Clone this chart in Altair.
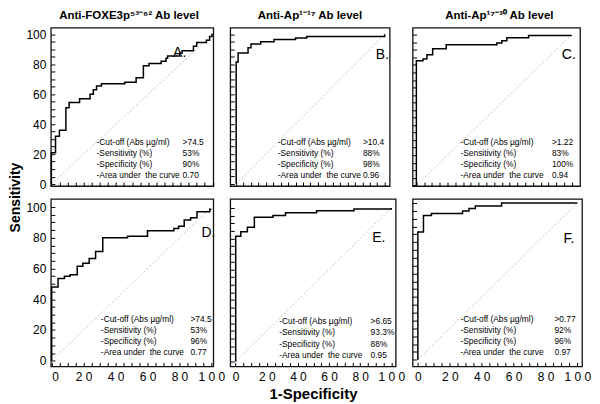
import altair as alt
import pandas as pd

# ---------------- data ----------------
A_FPR = [0, 0, 2.6, 5, 9, 11, 17.5, 24, 26, 28, 31, 45.5, 52.5, 57, 60.5, 68, 71, 72, 79.5, 81, 88, 90, 96, 98, 99.5, 100]
A_TPR = [0, 21, 32, 36, 51, 54.5, 57, 60, 63, 65.5, 67, 68, 71, 79, 80.5, 82, 84, 85.5, 87.5, 89, 92, 94.5, 96, 98.5, 100, 100]
B_FPR = [0, 0, 1.3, 8, 10, 16.5, 25.5, 40, 47.5, 100]
B_TPR = [0, 81.5, 87.5, 91, 93.5, 95, 96.5, 97.5, 98.5, 100]
C_FPR = [0, 0, 4.3, 6.8, 10.5, 19.2, 51.8, 55, 58.2, 72.2, 100]
C_TPR = [0, 82.8, 84, 86.8, 90.7, 93.4, 94.6, 96, 98, 99.6, 99.6]
D_FPR = [0, 0, 4, 8, 11.5, 16, 19.5, 23.5, 27.5, 32, 47.5, 60, 76.5, 79.5, 83, 87, 91, 99, 100]
D_TPR = [0, 48, 53.5, 55, 56, 61.5, 63.5, 66.5, 71, 80, 81, 84.5, 86, 87.5, 91.5, 93, 97, 98.5, 98.5]
E_FPR = [0, 0, 3.3, 7.5, 12, 24, 32, 52, 76, 100]
E_TPR = [0, 81.5, 84.5, 87.5, 94, 95, 96.8, 98.2, 99.3, 100]
F_FPR = [0, 0, 3.5, 8.5, 28, 32, 36, 52.5, 100]
F_TPR = [0, 81.5, 92, 93.3, 94.8, 96.5, 98, 100, 100]

STAT_LABELS = ["-Cut-off (Abs \u00b5g/ml)", "-Sensitivity (%)", "-Specificity (%)",
               "-Area under\u00a0 the curve"]
A_STATS = [">74.5", "53%", "90%", "0.70"]
B_STATS = [">10.4", "88%", "98%", "0.96"]
C_STATS = [">1.22", "83%", "100%", "0.94"]
D_STATS = [">74.5", "53%", "96%", "0.77"]
E_STATS = [">6.65", "93.3%", "88%", "0.95"]
F_STATS = [">0.77", "92%", "96%", "0.97"]

PANEL_LETTERS = ["A.", "B.", "C.", "D.", "E.", "F."]
TITLES = ["Anti-FOXE3p\u2075\u00b3\u207b\u2076\u00b2 Ab level",
          "Anti-Ap\u00b9\u207b\u00b9\u2077 Ab level",
          "Anti-Ap\u00b9\u2077\u207b\u00b3\u2070 Ab level"]
TICKS = list(range(0, 101, 5))
DIAG = [0, 100]

# ---------------- layout / style ----------------
FONT = "Liberation Sans"
LAYOUT = {
    "A": dict(w=163, h=159, xd=[-0.3, 100.3], yd=[-1.3, 104.4], tx=28, vx=81.3, ty=28.0, st=7.4, lx=75.4, ly=87.5),
    "B": dict(w=160, h=159, xd=[-4.0, 103.4], yd=[-1.5, 104.5], tx=28, vx=85.4, ty=27.8, st=7.3, lx=94, ly=86.5),
    "C": dict(w=168, h=159, xd=[-2.4, 105.3], yd=[-0.5, 104.8], tx=28.4, vx=87.2, ty=28.6, st=7.3, lx=93.6, ly=86.5),
    "D": dict(w=163, h=168, xd=[-0.5, 101.2], yd=[-3.7, 105.2], tx=30.8, vx=86.9, ty=27.0, st=7.2, lx=93.8, ly=83.2),
    "E": dict(w=166, h=168, xd=[-3.5, 102.8], yd=[-3.2, 105.8], tx=28, vx=86.7, ty=26.4, st=7.4, lx=87.8, ly=80.5),
    "F": dict(w=170, h=168, xd=[-3.3, 102.9], yd=[-4.3, 102.5], tx=26.7, vx=85.6, ty=25.8, st=7.0, lx=91.3, ly=76.8),
}
CURVES = {"A": (A_FPR, A_TPR), "B": (B_FPR, B_TPR), "C": (C_FPR, C_TPR),
          "D": (D_FPR, D_TPR), "E": (E_FPR, E_TPR), "F": (F_FPR, F_TPR)}
STATS = {"A": A_STATS, "B": B_STATS, "C": C_STATS, "D": D_STATS, "E": E_STATS, "F": F_STATS}

X_LABEL_EXPR = ("datum.value % 20 != 0 ? '' : (datum.value == 0 ? '0' : "
                "(datum.value == 100 ? '1 0 0' : floor(datum.value / 10) + ' 0'))")
Y_LABEL_EXPR = "datum.value % 20 != 0 ? '' : '' + datum.value"


def make_axis(labels, kind, title=None, extra=None):
    kw = dict(values=TICKS, offset=-4, tickSize=4, domain=False, grid=False,
              tickColor="black", tickWidth=1, labelOverlap=False,
              labelColor="black", labelFont=FONT, labelFontSize=12)
    if labels:
        kw["labelExpr"] = X_LABEL_EXPR if kind == "x" else Y_LABEL_EXPR
        kw["labelPadding"] = 5
    else:
        kw["labels"] = False
    kw["title"] = title
    if extra:
        kw.update(extra)
    return alt.Axis(**kw)


def panel(key, idx, xlabels, ylabels, title=None, title_dx=0, ytitle=None, xtitle=None):
    L = LAYOUT[key]
    fpr, tpr = CURVES[key]
    yextra = None
    if ytitle:
        yextra = dict(titleAngle=270, titleX=-46, titleY=170, titleBaseline="top",
                      titleAlign="center", titleFont=FONT, titleFontSize=14,
                      titleFontWeight="bold", titleColor="black")
    xextra = None
    if xtitle:
        xextra = dict(titleFont=FONT, titleFontSize=15, titleFontWeight="bold",
                      titleColor="black", titlePadding=4)
    xs = alt.Scale(domain=L["xd"], nice=False, zero=False)
    ys = alt.Scale(domain=L["yd"], nice=False, zero=False)
    xenc = alt.X("fpr:Q", scale=xs, axis=make_axis(xlabels, "x", xtitle, xextra))
    yenc = alt.Y("tpr:Q", scale=ys, axis=make_axis(ylabels, "y", ytitle, yextra))

    diag = alt.Chart(pd.DataFrame({"fpr": DIAG, "tpr": DIAG})).mark_line(
        color="#b8b8b8", strokeDash=[2, 2], strokeWidth=0.8).encode(x=xenc, y=yenc)
    curve = alt.Chart(pd.DataFrame({"fpr": fpr, "tpr": tpr})).mark_line(
        interpolate="step-after", color="black", strokeWidth=1.5).encode(x=xenc, y=yenc)

    ypos = [L["ty"] - i * L["st"] for i in range(4)]
    df_lab = pd.DataFrame({"txt": STAT_LABELS, "tpr": ypos, "fpr": [L["tx"]] * 4})
    df_val = pd.DataFrame({"txt": STATS[key], "tpr": ypos, "fpr": [L["vx"]] * 4})
    t1 = alt.Chart(df_lab).mark_text(align="left", baseline="middle", font=FONT,
                                     fontSize=8.4, color="black").encode(
        x=xenc, y=yenc, text="txt:N")
    t2 = alt.Chart(df_val).mark_text(align="left", baseline="middle", font=FONT,
                                     fontSize=8.4, color="black").encode(
        x=xenc, y=yenc, text="txt:N")
    ldf = pd.DataFrame({"txt": [PANEL_LETTERS[idx]], "fpr": [L["lx"]], "tpr": [L["ly"]]})
    let = alt.Chart(ldf).mark_text(align="left", baseline="middle", font=FONT,
                                   fontSize=14, color="black").encode(
        x=xenc, y=yenc, text="txt:N")

    props = dict(width=L["w"], height=L["h"])
    if title:
        props["title"] = alt.TitleParams(text=title, anchor="middle", frame="group",
                                         dx=title_dx, offset=6, font=FONT,
                                         fontSize=11.5, fontWeight="bold", color="black")
    return alt.layer(diag, curve, t1, t2, let).properties(**props)


pA = panel("A", 0, False, True, TITLES[0], -3, ytitle="Sensitivity")
pB = panel("B", 1, False, False, TITLES[1], 0)
pC = panel("C", 2, False, False, TITLES[2], 3)
pD = panel("D", 3, True, True)
pE = panel("E", 4, True, False, xtitle="1-Specificity")
pF = panel("F", 5, True, False)

chart = alt.concat(pA, pB, pC, pD, pE, pF, columns=3, bounds="flush", align="each",
                   spacing={"column": 17, "row": 13}).properties(
    padding={"left": 0, "top": 0, "right": 0, "bottom": 0}, background="white"
).configure_view(stroke="#111", strokeWidth=1.3)

chart.save("out.html", embed_options={"renderer": "svg", "actions": False})
